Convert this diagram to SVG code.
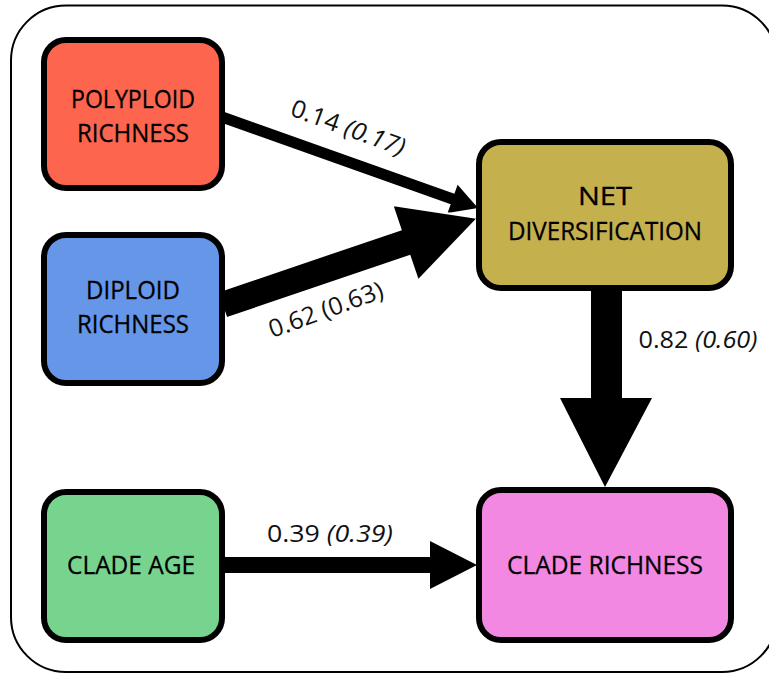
<svg xmlns="http://www.w3.org/2000/svg" width="769" height="674" viewBox="0 0 769 674">
<style>
.frame{fill:#fff;stroke:#000;stroke-width:2}
.box{stroke:#000;stroke-width:6}
.nt{font-family:"Open Sans","Liberation Sans",sans-serif;font-size:26px;fill:#000;text-anchor:middle;stroke:#000;stroke-width:0.3}
.el{font-family:"Open Sans","Liberation Sans",sans-serif;font-size:24.5px;fill:#111;text-anchor:middle}
.it{font-style:italic}
.arr{fill:#000}
</style>
<rect class="frame" x="11" y="5.5" width="766" height="666.5" rx="55"/>
<g id="connectors">
  <g id="e-poly-net" transform="translate(222,117) rotate(19.57)">
    <path class="arr" d="M0,-5.5 L244.7,-5.5 L244.7,-15 L271.7,0 L244.7,15 L244.7,5.5 L0,5.5 Z"/>
  </g>
  <g id="e-dip-net" transform="translate(222,305) rotate(-18.77)">
    <path class="arr" stroke="#fff" stroke-width="2" stroke-linejoin="miter" d="M0,-14 L193.4,-14 L193.4,-40 L270.4,0 L193.4,40 L193.4,14 L0,14 Z"/>
  </g>
  <path id="e-net-clade" class="arr" d="M591,290 L622,290 L622,398 L652,398 L605,487 L560,398 L591,398 Z"/>
  <path id="e-age-clade" class="arr" d="M222,557 L430,557 L430,541 L477,565 L430,589 L430,573 L222,573 Z"/>
  <text class="el" transform="translate(348,128) rotate(20)" y="8" textLength="120" lengthAdjust="spacingAndGlyphs">0.14 <tspan class="it">(0.17)</tspan></text>
  <text class="el" transform="translate(326,310) rotate(-20)" y="8" textLength="120" lengthAdjust="spacingAndGlyphs">0.62 (0.63)</text>
  <text class="el" x="698" y="348" textLength="119" lengthAdjust="spacingAndGlyphs">0.82 <tspan class="it">(0.60)</tspan></text>
  <text class="el" x="330" y="542" textLength="126" lengthAdjust="spacingAndGlyphs">0.39 <tspan class="it">(0.39)</tspan></text>
</g>
<g id="polyploid">
  <rect class="box" x="44" y="40" width="178" height="148" rx="22" fill="#FD654E"/>
  <text class="nt" x="133" y="108" textLength="124" lengthAdjust="spacingAndGlyphs">POLYPLOID</text>
  <text class="nt" x="133" y="142" textLength="112" lengthAdjust="spacingAndGlyphs">RICHNESS</text>
</g>
<g id="diploid">
  <rect class="box" x="44" y="235" width="178" height="148" rx="22" fill="#6596E8"/>
  <text class="nt" x="133" y="299" textLength="94" lengthAdjust="spacingAndGlyphs">DIPLOID</text>
  <text class="nt" x="133" y="333" textLength="112" lengthAdjust="spacingAndGlyphs">RICHNESS</text>
</g>
<g id="clade-age">
  <rect class="box" x="44" y="492" width="178" height="148" rx="22" fill="#77D48E"/>
  <text class="nt" x="131" y="574" textLength="128" lengthAdjust="spacingAndGlyphs">CLADE AGE</text>
</g>
<g id="net-diversification">
  <rect class="box" x="479" y="142" width="252" height="146" rx="22" fill="#C5B04E"/>
  <text class="nt" x="605" y="205" textLength="54" lengthAdjust="spacingAndGlyphs">NET</text>
  <text class="nt" x="605" y="240" textLength="194" lengthAdjust="spacingAndGlyphs">DIVERSIFICATION</text>
</g>
<g id="clade-richness">
  <rect class="box" x="479" y="490" width="252" height="150" rx="22" fill="#F388E3"/>
  <text class="nt" x="605" y="574" textLength="196" lengthAdjust="spacingAndGlyphs">CLADE RICHNESS</text>
</g>
</svg>
